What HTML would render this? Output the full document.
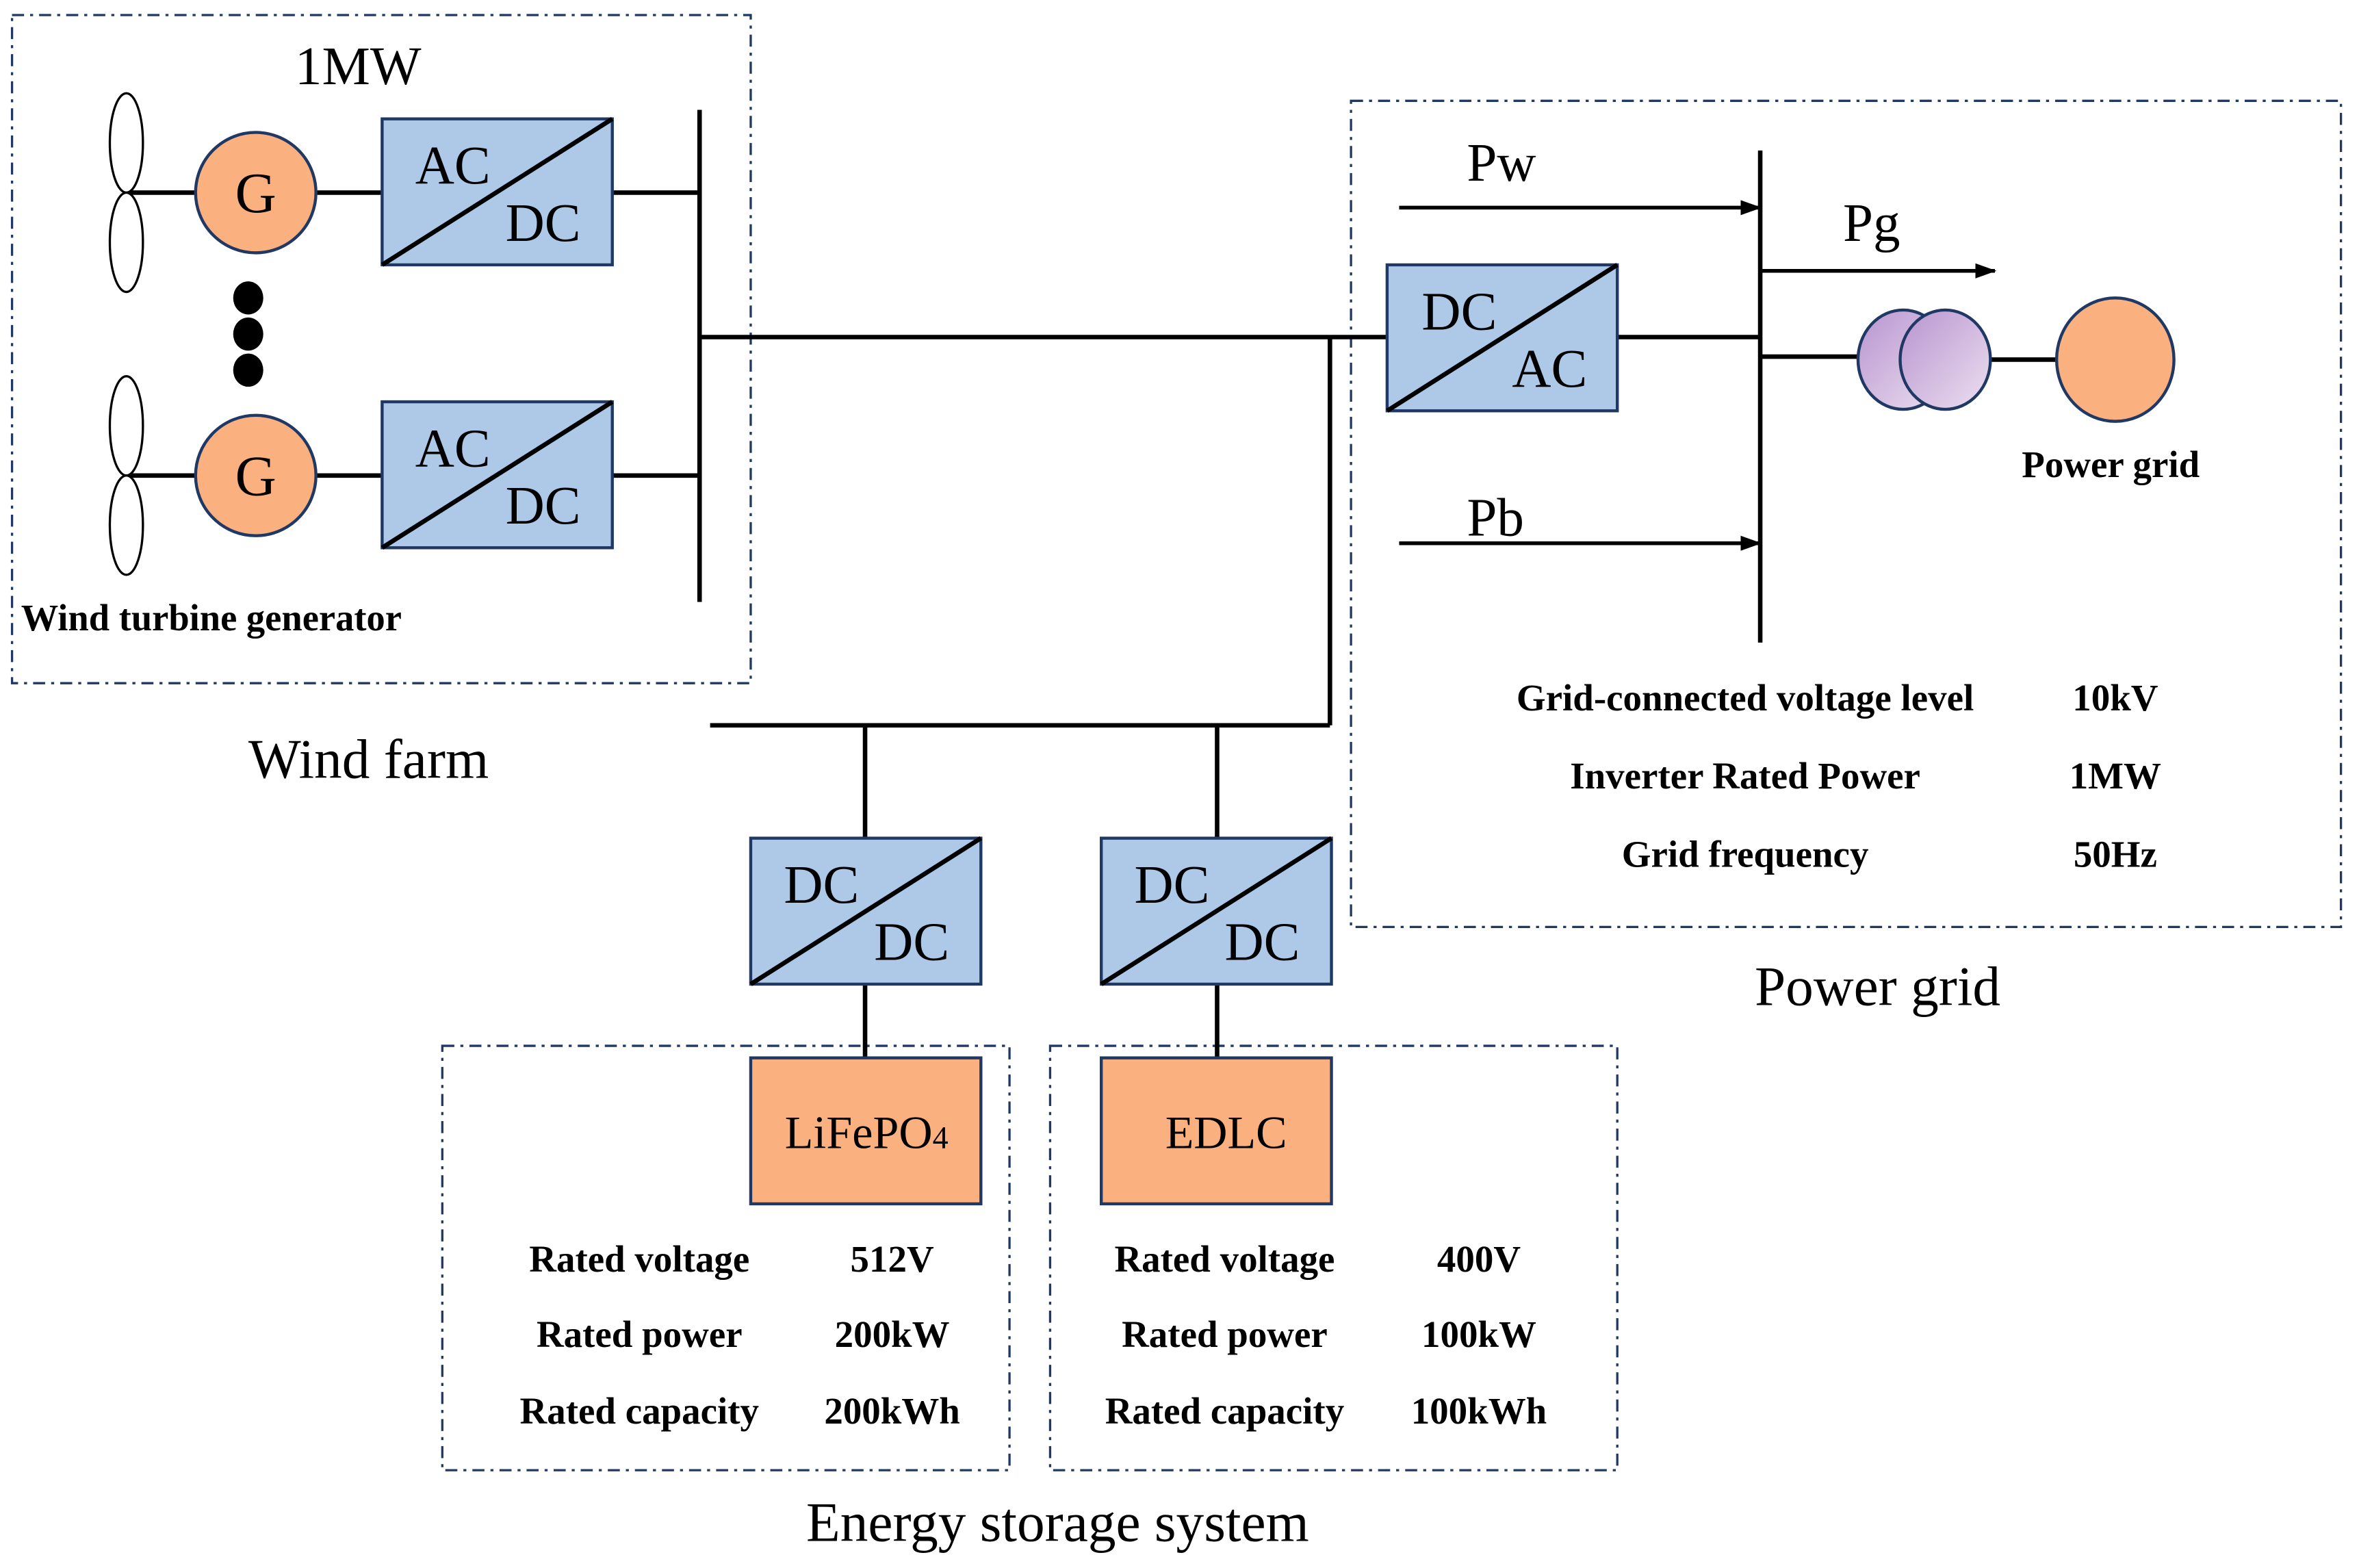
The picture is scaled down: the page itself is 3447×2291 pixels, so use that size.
<!DOCTYPE html>
<html><head><meta charset="utf-8"><style>html,body{margin:0;padding:0;background:#fff}svg{display:block}</style></head>
<body>
<svg width="3447" height="2291" viewBox="0 0 1568 1042" preserveAspectRatio="none" xmlns="http://www.w3.org/2000/svg" font-family="Liberation Serif, serif">
<defs>
<marker id="ar" markerWidth="14" markerHeight="10" refX="13" refY="5" orient="auto" markerUnits="userSpaceOnUse"><path d="M0,0 L14,5 L0,10 z" fill="#000"/></marker>
<linearGradient id="pg" x1="0" y1="0" x2="1" y2="1"><stop offset="0" stop-color="#b894cf"/><stop offset="1" stop-color="#ece0f0"/></linearGradient>
</defs>
<g fill="none" stroke="#1f3864" stroke-width="1.5" stroke-dasharray="8,4,2,4">
<rect x="8" y="10" width="491" height="444"/>
<rect x="898" y="67" width="658" height="549"/>
<rect x="294" y="695" width="377" height="282"/>
<rect x="698" y="695" width="377" height="282"/>
</g>
<g stroke="#000" stroke-width="3" fill="none">
<line x1="84" y1="128" x2="130" y2="128"/><line x1="210" y1="128" x2="254" y2="128"/><line x1="407" y1="128" x2="465" y2="128"/>
<line x1="84" y1="316" x2="130" y2="316"/><line x1="210" y1="316" x2="254" y2="316"/><line x1="407" y1="316" x2="465" y2="316"/>
<line x1="465" y1="73" x2="465" y2="400"/>
<line x1="465" y1="224" x2="922" y2="224"/>
<line x1="884" y1="224" x2="884" y2="482"/>
<line x1="472" y1="482" x2="884" y2="482"/>
<line x1="575" y1="482" x2="575" y2="557"/><line x1="809" y1="482" x2="809" y2="557"/>
<line x1="575" y1="654" x2="575" y2="703"/><line x1="809" y1="654" x2="809" y2="703"/>
<line x1="1075" y1="224" x2="1170" y2="224"/>
<line x1="1170" y1="100" x2="1170" y2="427"/>
<line x1="1170" y1="237" x2="1236" y2="237"/><line x1="1322" y1="239" x2="1368" y2="239"/>
<line x1="930" y1="138" x2="1170" y2="138" marker-end="url(#ar)" stroke-width="2.5"/>
<line x1="930" y1="361" x2="1170" y2="361" marker-end="url(#ar)" stroke-width="2.5"/>
<line x1="1170" y1="180" x2="1326" y2="180" marker-end="url(#ar)" stroke-width="2.5"/>
</g>
<g fill="#fff" stroke="#000" stroke-width="1.5">
<ellipse cx="84" cy="95" rx="11" ry="33"/><ellipse cx="84" cy="161" rx="11" ry="33"/>
<ellipse cx="84" cy="283" rx="11" ry="33"/><ellipse cx="84" cy="349" rx="11" ry="33"/>
</g>
<g fill="#000"><ellipse cx="165" cy="198" rx="10" ry="11"/><ellipse cx="165" cy="222" rx="10" ry="11"/><ellipse cx="165" cy="246" rx="10" ry="11"/></g>
<g fill="#fbb07f" stroke="#1f3864" stroke-width="2">
<ellipse cx="170" cy="128" rx="40" ry="40"/><ellipse cx="170" cy="316" rx="40" ry="40"/>
<ellipse cx="1406" cy="239" rx="39" ry="41"/>
<rect x="499" y="703" width="153" height="97"/><rect x="732" y="703" width="153" height="97"/>
</g>
<g fill="url(#pg)" stroke="#1f3864" stroke-width="2">
<ellipse cx="1265" cy="239" rx="30" ry="33"/><ellipse cx="1293" cy="239" rx="30" ry="33"/>
</g>
<g fill="#aec8e8" stroke="#1f3864" stroke-width="2">
<rect x="254" y="79" width="153" height="97"/><rect x="254" y="267" width="153" height="97"/>
<rect x="922" y="176" width="153" height="97"/>
<rect x="499" y="557" width="153" height="97"/><rect x="732" y="557" width="153" height="97"/>
</g>
<g stroke="#000" stroke-width="3">
<line x1="254" y1="176" x2="407" y2="79"/><line x1="254" y1="364" x2="407" y2="267"/>
<line x1="922" y1="273" x2="1075" y2="176"/>
<line x1="499" y1="654" x2="652" y2="557"/><line x1="732" y1="654" x2="885" y2="557"/>
</g>
<g font-size="36" fill="#000">
<text x="170" y="141" text-anchor="middle" font-size="38">G</text>
<text x="170" y="329" text-anchor="middle" font-size="38">G</text>
<text x="276" y="122">AC</text><text x="336" y="160">DC</text>
<text x="276" y="310">AC</text><text x="336" y="348">DC</text>
<text x="945" y="219">DC</text><text x="1005" y="257">AC</text>
<text x="521" y="600">DC</text><text x="581" y="638">DC</text>
<text x="754" y="600">DC</text><text x="814" y="638">DC</text>
<text x="238" y="56" text-anchor="middle">1MW</text>
<text x="975" y="120">Pw</text><text x="975" y="356">Pb</text><text x="1225" y="160">Pg</text>
<text x="245" y="517" text-anchor="middle" font-size="37">Wind farm</text>
<text x="1248" y="668" text-anchor="middle" font-size="37">Power grid</text>
<text x="703" y="1024" text-anchor="middle" font-size="37">Energy storage system</text>
<text x="576" y="763" text-anchor="middle" font-size="31">LiFePO<tspan font-size="21">4</tspan></text>
<text x="815" y="763" text-anchor="middle" font-size="31">EDLC</text>
</g>
<g font-size="25" font-weight="bold" fill="#000">
<text x="14" y="419" textLength="253" lengthAdjust="spacingAndGlyphs">Wind turbine generator</text>
<text x="1403" y="317" text-anchor="middle">Power grid</text>
<text x="1160" y="472" text-anchor="middle">Grid-connected voltage level</text><text x="1406" y="472" text-anchor="middle">10kV</text>
<text x="1160" y="524" text-anchor="middle">Inverter Rated Power</text><text x="1406" y="524" text-anchor="middle">1MW</text>
<text x="1160" y="576" text-anchor="middle">Grid frequency</text><text x="1406" y="576" text-anchor="middle">50Hz</text>
<text x="425" y="845" text-anchor="middle">Rated voltage</text><text x="593" y="845" text-anchor="middle">512V</text>
<text x="425" y="895" text-anchor="middle">Rated power</text><text x="593" y="895" text-anchor="middle">200kW</text>
<text x="425" y="946" text-anchor="middle">Rated capacity</text><text x="593" y="946" text-anchor="middle">200kWh</text>
<text x="814" y="845" text-anchor="middle">Rated voltage</text><text x="983" y="845" text-anchor="middle">400V</text>
<text x="814" y="895" text-anchor="middle">Rated power</text><text x="983" y="895" text-anchor="middle">100kW</text>
<text x="814" y="946" text-anchor="middle">Rated capacity</text><text x="983" y="946" text-anchor="middle">100kWh</text>
</g>
</svg>
</body></html>
